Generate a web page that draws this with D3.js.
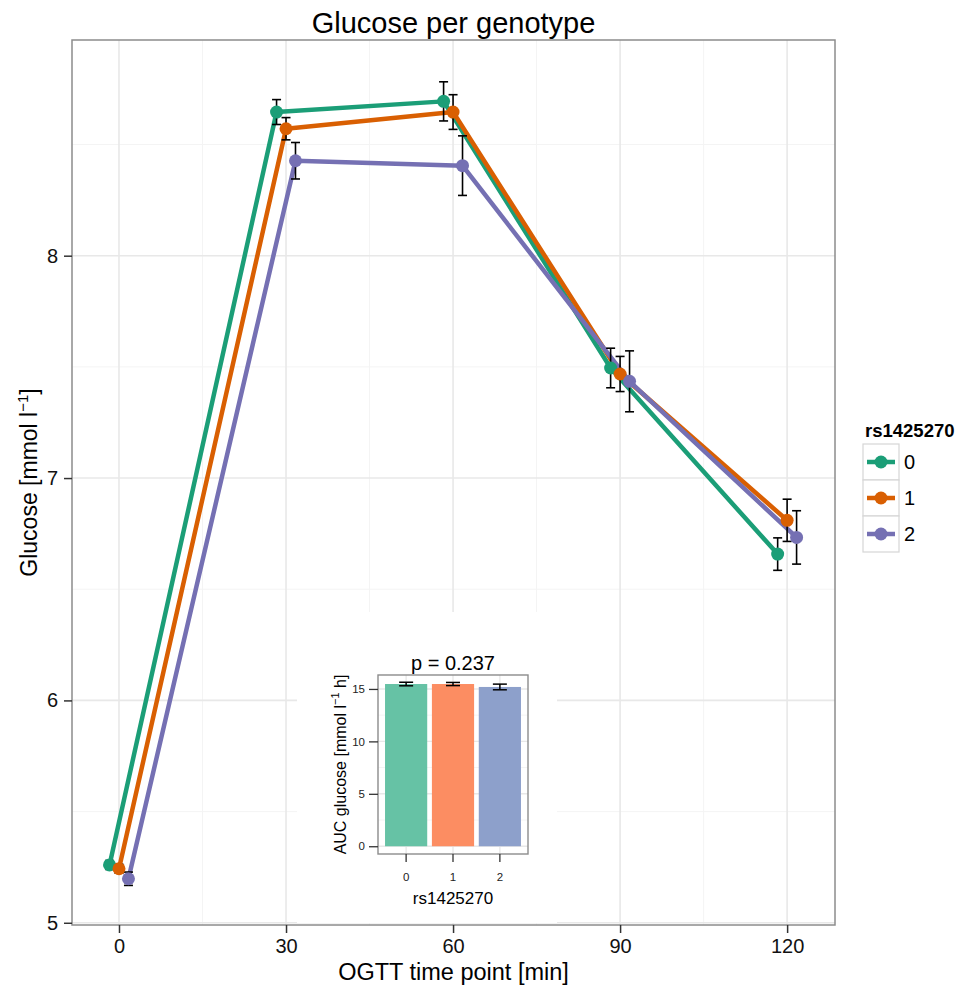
<!DOCTYPE html>
<html>
<head>
<meta charset="utf-8">
<script src="https://cdn.jsdelivr.net/npm/d3@7"></script>
<style>
  body { margin: 0; background: #fff; }
  svg text { font-family: "Liberation Sans", Arial, sans-serif; }
</style>
</head>
<body>
<div id="chart"></div>
<script>
// data
const timePoints = [0, 30, 60, 90, 120];
const genotypes = ["0", "1", "2"];
const glucose0 = [5.26, 8.646, 8.694, 7.495, 6.658];
const glucose1 = [5.243, 8.571, 8.646, 7.468, 6.81];
const glucose2 = [5.198, 8.427, 8.405, 7.435, 6.733];
const se0 = [0.02, 0.056, 0.088, 0.089, 0.073];
const se1 = [0.02, 0.05, 0.078, 0.079, 0.095];
const se2 = [0.03, 0.082, 0.134, 0.137, 0.12];
const xTicks = [0, 30, 60, 90, 120];
const yTicks = [5, 6, 7, 8];
const aucMean = [15.47, 15.47, 15.19];
const aucSe = [0.17, 0.15, 0.27];
const aucTicks = [0, 5, 10, 15];

const lineColors = ["#1B9E77", "#D95F02", "#7570B3"];
const barColors = ["#66C2A5", "#FC8D62", "#8DA0CB"];
const dodge = [-1.7, 0, 1.7];

const means = [glucose0, glucose1, glucose2];
const ses = [se0, se1, se2];
const series = genotypes.map((g, i) => ({
    key: g,
    color: lineColors[i],
    values: timePoints.map((t, j) => ({ t: t + dodge[i], m: means[i][j], se: ses[i][j] }))
}));

const width = 959, height = 992;
const svg = d3.select("#chart").append("svg")
    .attr("width", width)
    .attr("height", height);

const pLeft = 72, pRight = 835, pTop = 40, pBottom = 925;

const x = d3.scaleLinear().domain([-8.44, 128.6]).range([pLeft, pRight]);
const y = d3.scaleLinear().domain([4.99, 8.97]).range([pBottom, pTop]);

// grid
const grid = svg.append("g");
const xMinor = [15, 45, 75, 105];
const yMinor = [5.5, 6.5, 7.5, 8.5];
grid.selectAll(".xmin").data(xMinor).enter().append("line")
    .attr("x1", d => x(d)).attr("x2", d => x(d))
    .attr("y1", pTop).attr("y2", pBottom)
    .attr("stroke", "#f4f4f4").attr("stroke-width", 1);
grid.selectAll(".ymin").data(yMinor).enter().append("line")
    .attr("x1", pLeft).attr("x2", pRight)
    .attr("y1", d => y(d)).attr("y2", d => y(d))
    .attr("stroke", "#f4f4f4").attr("stroke-width", 1);
grid.selectAll(".xmaj").data(xTicks).enter().append("line")
    .attr("x1", d => x(d)).attr("x2", d => x(d))
    .attr("y1", pTop).attr("y2", pBottom)
    .attr("stroke", "#e8e8e8").attr("stroke-width", 1.6);
grid.selectAll(".ymaj").data(yTicks).enter().append("line")
    .attr("x1", pLeft).attr("x2", pRight)
    .attr("y1", d => y(d)).attr("y2", d => y(d))
    .attr("stroke", "#e8e8e8").attr("stroke-width", 1.6);

// lines
const line = d3.line().x(d => x(d.t)).y(d => y(d.m));
svg.selectAll(".series").data(series).enter().append("path")
    .attr("d", d => line(d.values))
    .attr("fill", "none")
    .attr("stroke", d => d.color)
    .attr("stroke-width", 4.5)
    .attr("stroke-linejoin", "round");

// error bars
series.forEach(s => {
    const g = svg.append("g").attr("stroke", "#000").attr("stroke-width", 1.6);
    s.values.forEach(v => {
        const cx = x(v.t);
        g.append("line").attr("x1", cx).attr("x2", cx).attr("y1", y(v.m - v.se)).attr("y2", y(v.m + v.se));
        g.append("line").attr("x1", cx - 4.5).attr("x2", cx + 4.5).attr("y1", y(v.m - v.se)).attr("y2", y(v.m - v.se));
        g.append("line").attr("x1", cx - 4.5).attr("x2", cx + 4.5).attr("y1", y(v.m + v.se)).attr("y2", y(v.m + v.se));
    });
});

// points
series.forEach(s => {
    svg.append("g").selectAll("circle").data(s.values).enter().append("circle")
        .attr("cx", d => x(d.t)).attr("cy", d => y(d.m))
        .attr("r", 6.5).attr("fill", s.color);
});

// panel border
svg.append("rect")
    .attr("x", pLeft).attr("y", pTop)
    .attr("width", pRight - pLeft).attr("height", pBottom - pTop)
    .attr("fill", "none").attr("stroke", "#8c8c8c").attr("stroke-width", 1.5);

// axes
const xAxis = svg.append("g")
    .attr("transform", `translate(0,${pBottom})`)
    .call(d3.axisBottom(x).tickValues(xTicks).tickSize(8).tickPadding(6));
const yAxis = svg.append("g")
    .attr("transform", `translate(${pLeft},0)`)
    .call(d3.axisLeft(y).tickValues(yTicks).tickFormat(d3.format("d")).tickSize(8).tickPadding(6));
[xAxis, yAxis].forEach(a => {
    a.select(".domain").remove();
    a.selectAll(".tick line").attr("stroke", "#333").attr("stroke-width", 1.5);
    a.selectAll(".tick text").attr("fill", "#111").style("font-size", "20px");
});

// titles
svg.append("text")
    .attr("x", (pLeft + pRight) / 2).attr("y", 33)
    .attr("text-anchor", "middle")
    .style("font-size", "29px")
    .text("Glucose per genotype");

svg.append("text")
    .attr("x", (pLeft + pRight) / 2).attr("y", 980)
    .attr("text-anchor", "middle")
    .style("font-size", "23.5px")
    .text("OGTT time point [min]");

const yTitle = svg.append("text")
    .attr("transform", `translate(37,${(pTop + pBottom) / 2}) rotate(-90)`)
    .attr("text-anchor", "middle")
    .style("font-size", "23px");
yTitle.append("tspan").text("Glucose [mmol l");
yTitle.append("tspan").attr("dy", -9).style("font-size", "15px").text("\u22121");
yTitle.append("tspan").attr("dy", 9).text("]");

// legend
const legend = svg.append("g");
legend.append("text")
    .attr("x", 865).attr("y", 437)
    .style("font-size", "18.5px").style("font-weight", "bold")
    .text("rs1425270");
const keys = legend.selectAll(".key").data(series).enter().append("g")
    .attr("transform", (d, i) => `translate(863,${444 + i * 36})`);
keys.append("rect")
    .attr("width", 36).attr("height", 36)
    .attr("fill", "#fff").attr("stroke", "#d6d6d6").attr("stroke-width", 1.2);
keys.append("line")
    .attr("x1", 4).attr("x2", 32).attr("y1", 18).attr("y2", 18)
    .attr("stroke", d => d.color).attr("stroke-width", 4.5);
keys.append("circle")
    .attr("cx", 18).attr("cy", 18).attr("r", 6.5)
    .attr("fill", d => d.color);
keys.append("text")
    .attr("x", 41).attr("y", 25)
    .style("font-size", "20px")
    .text(d => d.key);

// inset AUC plot
const inset = svg.append("g");
inset.append("rect")
    .attr("x", 297).attr("y", 612)
    .attr("width", 260).attr("height", 311)
    .attr("fill", "#fff");

const il = 378, ir = 528, it = 675, ib = 854;
const xi = d3.scaleBand().domain(genotypes).range([il, ir]).paddingInner(0.1).paddingOuter(0.15);
const yi = d3.scaleLinear().domain([-0.74, 16.33]).range([ib, it]);

const aucMinor = [2.5, 7.5, 12.5];
inset.selectAll(".imin").data(aucMinor).enter().append("line")
    .attr("x1", il).attr("x2", ir)
    .attr("y1", d => yi(d)).attr("y2", d => yi(d))
    .attr("stroke", "#f4f4f4").attr("stroke-width", 1);
inset.selectAll(".imaj").data(aucTicks).enter().append("line")
    .attr("x1", il).attr("x2", ir)
    .attr("y1", d => yi(d)).attr("y2", d => yi(d))
    .attr("stroke", "#e8e8e8").attr("stroke-width", 1.4);
inset.selectAll(".ixmaj").data(genotypes).enter().append("line")
    .attr("x1", d => xi(d) + xi.bandwidth() / 2).attr("x2", d => xi(d) + xi.bandwidth() / 2)
    .attr("y1", it).attr("y2", ib)
    .attr("stroke", "#e8e8e8").attr("stroke-width", 1.4);

const aucData = genotypes.map((g, i) => ({ g: g, m: aucMean[i], se: aucSe[i], color: barColors[i] }));
inset.selectAll(".bar").data(aucData).enter().append("rect")
    .attr("x", d => xi(d.g))
    .attr("y", d => yi(d.m))
    .attr("width", xi.bandwidth())
    .attr("height", d => yi(0) - yi(d.m))
    .attr("fill", d => d.color);

const ie = inset.append("g").attr("stroke", "#000").attr("stroke-width", 1.5);
aucData.forEach(d => {
    const cx = xi(d.g) + xi.bandwidth() / 2;
    ie.append("line").attr("x1", cx).attr("x2", cx).attr("y1", yi(d.m - d.se)).attr("y2", yi(d.m + d.se));
    ie.append("line").attr("x1", cx - 7).attr("x2", cx + 7).attr("y1", yi(d.m - d.se)).attr("y2", yi(d.m - d.se));
    ie.append("line").attr("x1", cx - 7).attr("x2", cx + 7).attr("y1", yi(d.m + d.se)).attr("y2", yi(d.m + d.se));
});

inset.append("rect")
    .attr("x", il).attr("y", it)
    .attr("width", ir - il).attr("height", ib - it)
    .attr("fill", "none").attr("stroke", "#8c8c8c").attr("stroke-width", 1.4);

const xiAxis = inset.append("g")
    .attr("transform", `translate(0,${ib})`)
    .call(d3.axisBottom(xi).tickSize(8).tickPadding(11));
const yiAxis = inset.append("g")
    .attr("transform", `translate(${il},0)`)
    .call(d3.axisLeft(yi).tickValues(aucTicks).tickSize(9).tickPadding(4));
[xiAxis, yiAxis].forEach(a => {
    a.select(".domain").remove();
    a.selectAll(".tick line").attr("stroke", "#333").attr("stroke-width", 1.3);
    a.selectAll(".tick text").attr("fill", "#222").style("font-size", "11.5px");
});

inset.append("text")
    .attr("x", (il + ir) / 2).attr("y", 670)
    .attr("text-anchor", "middle")
    .style("font-size", "20px")
    .text("p = 0.237");

inset.append("text")
    .attr("x", (il + ir) / 2).attr("y", 904)
    .attr("text-anchor", "middle")
    .style("font-size", "17px")
    .text("rs1425270");

const iyTitle = inset.append("text")
    .attr("transform", `translate(346,${(it + ib) / 2}) rotate(-90)`)
    .attr("text-anchor", "middle")
    .style("font-size", "16px");
iyTitle.append("tspan").text("AUC glucose [mmol l");
iyTitle.append("tspan").attr("dy", -7).style("font-size", "11px").text("\u22121");
iyTitle.append("tspan").attr("dy", 7).text(" h]");
</script>
</body>
</html>
